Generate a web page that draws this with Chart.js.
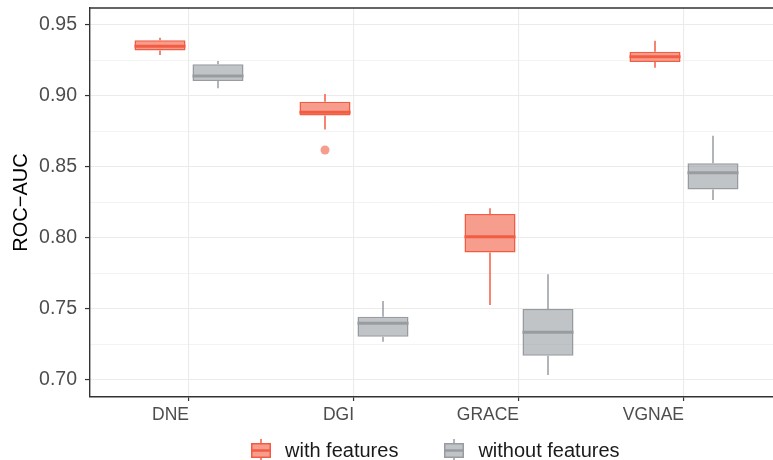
<!DOCTYPE html>
<html>
<head>
<meta charset="utf-8">
<script src="https://cdn.jsdelivr.net/npm/chart.js@4.4.0/dist/chart.umd.min.js"></script>
<style>
  html, body { margin: 0; padding: 0; background: #fff; overflow: hidden; }
  #wrap { position: relative; width: 773px; height: 460px; overflow: hidden; }
  #legend {
    position: absolute; left: 250px; top: 439px; height: 22px;
    display: flex; align-items: center;
    font-family: "Liberation Sans", Arial, Helvetica, sans-serif;
    font-size: 20px; color: #1a1a1a; white-space: nowrap;
  }
  .item { display: flex; align-items: center; }
  .item canvas { margin-right: 13px; display: block; }
  .item + .item { margin-left: 45px; }
</style>
</head>
<body>
<div id="wrap">
  <canvas id="chart" width="800" height="460"></canvas>
  <div id="legend"></div>
</div>
<script>
// Methods on the x axis
const categories = ['DNE', 'DGI', 'GRACE', 'VGNAE'];
const seriesNames = ['with features', 'without features'];

// Box-plot statistics (ROC-AUC) for the runs with node features
const withMin     = [0.9289, 0.8765, 0.7528, 0.9199];
const withQ1      = [0.9320, 0.8862, 0.7897, 0.9240];
const withMedian  = [0.9350, 0.8885, 0.8009, 0.9277];
const withQ3      = [0.9393, 0.8960, 0.8169, 0.9312];
const withMax     = [0.9410, 0.9014, 0.8209, 0.9389];
const withOutliers = [[], [0.8620], [], []];

// Box-plot statistics (ROC-AUC) for the runs without node features
const withoutMin     = [0.9054, 0.7270, 0.7035, 0.8268];
const withoutQ1      = [0.9106, 0.7305, 0.7171, 0.8342];
const withoutMedian  = [0.9141, 0.7399, 0.7336, 0.8459];
const withoutQ3      = [0.9223, 0.7446, 0.7500, 0.8526];
const withoutMax     = [0.9246, 0.7556, 0.7744, 0.8720];
const withoutOutliers = [[], [], [], []];

// y axis ticks
const yMajorTicks = [0.70, 0.75, 0.80, 0.85, 0.90, 0.95];
const yMinorTicks = [0.725, 0.775, 0.825, 0.875, 0.925];

const RED = 'rgb(242,92,66)';
const RED_FILL = 'rgba(242,92,66,0.6)';
const GREY = 'rgb(152,156,161)';
const GREY_FILL = 'rgba(152,156,161,0.6)';

const isMajor = v => yMajorTicks.some(t => Math.abs(t - v) < 1e-6);

function boxData(q1, q3) {
  return categories.map((_, i) => ({ x: i + 1, y: [q1[i], q3[i]] }));
}

function boxDataset(label, q1, q3, min, median, max, outliers, line, fill) {
  return {
    label,
    data: boxData(q1, q3),
    backgroundColor: fill,
    borderColor: line,
    borderWidth: 1.5,
    borderSkipped: false,
    categoryPercentage: 0.703,
    barPercentage: 0.88,
    stats: { min, median, max, outliers }
  };
}

// Whiskers, medians and outlying points, placed on each box element
const boxExtras = {
  id: 'boxExtras',
  beforeDatasetsDraw(chart) {
    const ctx = chart.ctx, y = chart.scales.y;
    chart.data.datasets.forEach((ds, d) => {
      const meta = chart.getDatasetMeta(d);
      meta.data.forEach((el, i) => {
        const s = ds.stats;
        ctx.save();
        ctx.strokeStyle = ds.borderColor;
        ctx.lineWidth = 1.5;
        ctx.beginPath();
        ctx.moveTo(el.x, y.getPixelForValue(ds.data[i].y[1]));
        ctx.lineTo(el.x, y.getPixelForValue(s.max[i]));
        ctx.moveTo(el.x, y.getPixelForValue(ds.data[i].y[0]));
        ctx.lineTo(el.x, y.getPixelForValue(s.min[i]));
        ctx.stroke();
        ctx.restore();
      });
    });
  },
  afterDatasetsDraw(chart) {
    const ctx = chart.ctx, y = chart.scales.y;
    chart.data.datasets.forEach((ds, d) => {
      const meta = chart.getDatasetMeta(d);
      meta.data.forEach((el, i) => {
        const s = ds.stats;
        ctx.save();
        ctx.strokeStyle = ds.borderColor;
        ctx.lineWidth = 3;
        const my = y.getPixelForValue(s.median[i]);
        ctx.beginPath();
        ctx.moveTo(el.x - el.width / 2, my);
        ctx.lineTo(el.x + el.width / 2, my);
        ctx.stroke();
        ctx.fillStyle = ds.backgroundColor;
        s.outliers[i].forEach(v => {
          ctx.beginPath();
          ctx.arc(el.x, y.getPixelForValue(v), 4.5, 0, Math.PI * 2);
          ctx.fill();
        });
        ctx.restore();
      });
    });
  },
  afterDraw(chart) {
    // top and right edges of the panel frame
    const { ctx, chartArea } = chart;
    ctx.save();
    ctx.strokeStyle = '#333333';
    ctx.lineWidth = 1.4;
    ctx.beginPath();
    ctx.moveTo(chartArea.left, chartArea.top);
    ctx.lineTo(chartArea.right, chartArea.top);
    ctx.lineTo(chartArea.right, chartArea.bottom);
    ctx.stroke();
    ctx.restore();
  }
};

function drawKey(canvas, line, fill) {
  const c = canvas.getContext('2d');
  c.strokeStyle = line;
  c.lineWidth = 1.5;
  c.beginPath();
  c.moveTo(11, 0); c.lineTo(11, 4);
  c.moveTo(11, 19); c.lineTo(11, 23);
  c.stroke();
  c.fillStyle = fill;
  c.fillRect(1, 4, 20, 15);
  c.strokeRect(1.75, 4.75, 18.5, 13.5);
  c.lineWidth = 2.5;
  c.beginPath();
  c.moveTo(1, 11.5); c.lineTo(21, 11.5);
  c.stroke();
}

// Legend built from the chart's datasets
const htmlLegend = {
  id: 'htmlLegend',
  afterUpdate(chart) {
    const box = document.getElementById('legend');
    box.innerHTML = '';
    chart.data.datasets.forEach(ds => {
      const item = document.createElement('div');
      item.className = 'item';
      const key = document.createElement('canvas');
      key.width = 22; key.height = 23;
      drawKey(key, ds.borderColor, ds.backgroundColor);
      const txt = document.createElement('span');
      txt.textContent = ds.label;
      item.appendChild(key);
      item.appendChild(txt);
      box.appendChild(item);
    });
  }
};

const FONT = '"Liberation Sans", Arial, Helvetica, sans-serif';

new Chart(document.getElementById('chart'), {
  type: 'bar',
  data: {
    datasets: [
      boxDataset(seriesNames[0], withQ1, withQ3, withMin, withMedian, withMax, withOutliers, RED, RED_FILL),
      boxDataset(seriesNames[1], withoutQ1, withoutQ3, withoutMin, withoutMedian, withoutMax, withoutOutliers, GREY, GREY_FILL)
    ]
  },
  options: {
    responsive: false,
    animation: false,
    layout: { padding: { top: 8, left: 0, right: 17, bottom: 37 } },
    plugins: {
      legend: { display: false },
      tooltip: { enabled: false }
    },
    scales: {
      x: {
        type: 'linear',
        min: 0.4,
        max: 4.6,
        offset: false,
        afterBuildTicks: s => { s.ticks = categories.map((_, i) => ({ value: i + 1 })); },
        afterFit: s => { s.height = 26; s.paddingLeft = 0; s.paddingRight = 0; },
        grid: {
          offset: false,
          color: '#EBEBEB',
          lineWidth: 1.1,
          tickLength: 4,
          tickColor: '#333333',
          tickWidth: 1.2
        },
        border: { display: true, color: '#333333', width: 1.4 },
        ticks: {
          align: 'end',
          maxRotation: 0,
          autoSkip: false,
          padding: 4,
          color: '#4D4D4D',
          font: { family: FONT, size: 17.5 },
          callback: v => categories[Math.round(v) - 1]
        }
      },
      y: {
        type: 'linear',
        min: 0.688,
        max: 0.962,
        stacked: false,
        afterBuildTicks: s => {
          s.ticks = yMajorTicks.concat(yMinorTicks).sort((a, b) => a - b).map(v => ({ value: v }));
        },
        afterFit: s => { s.width = 90; s.paddingTop = 0; s.paddingBottom = 0; },
        grid: {
          color: '#EBEBEB',
          lineWidth: c => isMajor(c.tick.value) ? 1.1 : 0.6,
          tickLength: 5,
          tickColor: c => isMajor(c.tick.value) ? '#333333' : 'rgba(0,0,0,0)',
          tickWidth: 1.2
        },
        border: { display: true, color: '#333333', width: 1.4 },
        ticks: {
          autoSkip: false,
          padding: 8,
          color: '#4D4D4D',
          font: { family: FONT, size: 19.5 },
          callback: v => isMajor(v) ? v.toFixed(2) : ''
        },
        title: {
          display: true,
          text: 'ROC\u2212AUC',
          color: '#000000',
          font: { family: FONT, size: 20 },
          padding: { top: 9, bottom: 0 }
        }
      }
    }
  },
  plugins: [boxExtras, htmlLegend]
});
</script>
</body>
</html>
